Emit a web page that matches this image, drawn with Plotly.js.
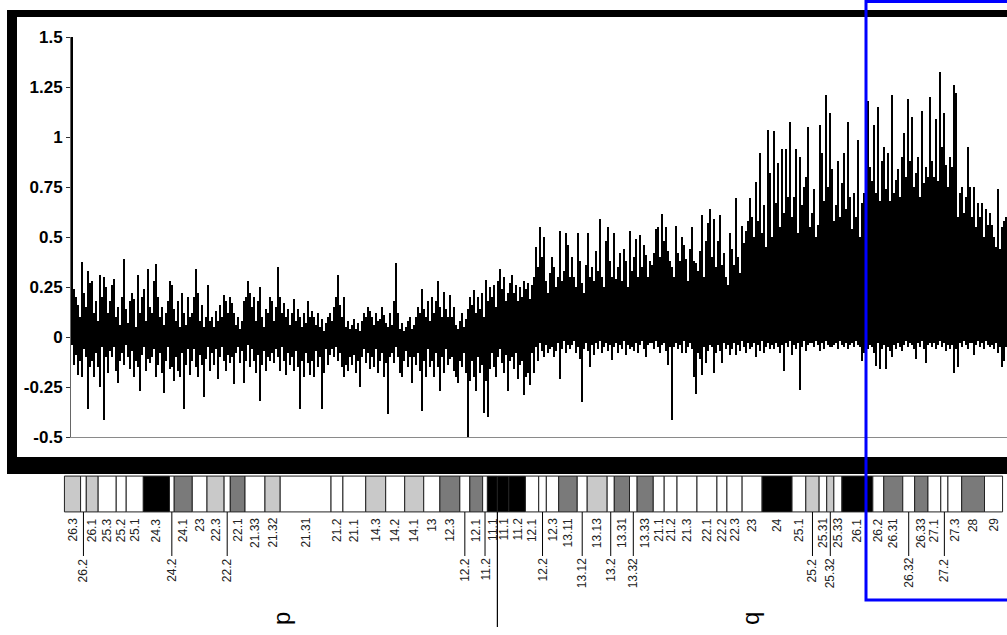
<!DOCTYPE html>
<html>
<head>
<meta charset="utf-8">
<script src="https://cdn.plot.ly/plotly-3.0.1.min.js"></script>
<style>
  html, body { margin: 0; padding: 0; background: #fff; }
  #chart { width: 1007px; height: 635px; }
</style>
</head>
<body>
<div id="chart"></div>
<script>
// log2 ratios along chromosome 3, two interleaved probe sets per slot
let ratioUp = [
  1.5, 0.24, 0.2, 0.16, 0.1, 0.375, 0.22, 0.15, 0.33, 0.27,
  0.28, 0.12, 0.18, 0.08, 0.31, 0.2, 0.3, 0.25, 0.12, 0.18,
  0.26, 0.29, 0.1, 0.15, 0.06, 0.2, 0.39, 0.14, 0.07, 0.18,
  0.22, 0.19, 0.05, 0.31, 0.12, 0.2, 0.24, 0.08, 0.34, 0.15,
  0.12, 0.28, 0.365, 0.2, 0.1, 0.15, 0.06, 0.12, 0.18, 0.28,
  0.26, 0.14, 0.08, 0.18, 0.05, 0.22, 0.12, 0.06, 0.2, 0.1,
  0.12, 0.2, 0.34, 0.22, 0.08, 0.16, 0.05, 0.1, 0.26, 0.08,
  0.1, 0.05, 0.13, 0.08, 0.16, 0.1, 0.21, 0.18, 0.12, 0.2,
  0.17, 0.12, 0.06, 0.1, 0.04, 0.08, 0.18, 0.2, 0.28, 0.22,
  0.15, 0.2, 0.08, 0.18, 0.25, 0.1, 0.05, 0.14, 0.12, 0.2,
  0.18, 0.08, 0.15, 0.35, 0.2, 0.12, 0.17, 0.1, 0.14, 0.06,
  0.12, 0.19, 0.08, 0.14, 0.1, 0.05, 0.12, 0.07, 0.18, 0.1,
  0.13, 0.1, 0.06, 0.12, 0.05, 0.09, 0.03, 0.07, 0.1, 0.12,
  0.08, 0.15, 0.2, 0.31, 0.16, 0.1, 0.2, 0.05, 0.08, 0.04,
  0.06, 0.09, 0.04, 0.07, 0.03, 0.08, 0.12, 0.1, 0.15, 0.13,
  0.1, 0.06, 0.12, 0.08, 0.09, 0.15, 0.11, 0.07, 0.05, 0.12,
  0.06, 0.18, 0.37, 0.12, 0.04, 0.07, 0.03, 0.05, 0.08, 0.1,
  0.04, 0.06, 0.1, 0.15, 0.12, 0.24, 0.14, 0.1, 0.18, 0.08,
  0.2, 0.12, 0.18, 0.28, 0.15, 0.1, 0.225, 0.14, 0.1, 0.21,
  0.1, 0.15, 0.06, 0.04, 0.08, 0.12, 0.05, 0.09, 0.14, 0.2,
  0.16, 0.235, 0.12, 0.2, 0.14, 0.22, 0.1, 0.285, 0.18, 0.25,
  0.2, 0.26, 0.15, 0.28, 0.34, 0.24, 0.3, 0.18, 0.22, 0.27,
  0.31, 0.22, 0.26, 0.18, 0.25, 0.2, 0.28, 0.24, 0.27, 0.19,
  0.26, 0.3, 0.45, 0.35, 0.55, 0.4, 0.5, 0.28, 0.22, 0.32,
  0.4, 0.35, 0.25, 0.3, 0.53, 0.28, 0.33, 0.52, 0.46, 0.3,
  0.4, 0.3, 0.25, 0.52, 0.38, 0.27, 0.22, 0.36, 0.52, 0.3,
  0.35, 0.28, 0.43, 0.33, 0.59, 0.3, 0.25, 0.48, 0.55, 0.38,
  0.3, 0.52, 0.29, 0.35, 0.42, 0.28, 0.44, 0.38, 0.25, 0.53,
  0.33, 0.4, 0.49, 0.3, 0.51, 0.35, 0.46, 0.41, 0.3, 0.38,
  0.36, 0.42, 0.54, 0.55, 0.4, 0.615, 0.48, 0.55, 0.43, 0.38,
  0.35, 0.3, 0.555, 0.42, 0.38, 0.5, 0.46, 0.39, 0.28, 0.44,
  0.55, 0.38, 0.37, 0.33, 0.43, 0.61, 0.3, 0.48, 0.57, 0.64,
  0.4, 0.59, 0.35, 0.48, 0.61, 0.36, 0.42, 0.3, 0.26, 0.52,
  0.44, 0.36, 0.695, 0.4, 0.32, 0.555, 0.47, 0.53, 0.58, 0.695,
  0.6, 0.5, 0.775, 0.58, 0.92, 0.52, 0.66, 0.45, 1.035, 0.82,
  0.5, 1.03, 0.67, 0.87, 0.55, 0.94, 0.62, 0.94, 0.7, 1.075,
  0.6, 0.7, 0.94, 0.52, 0.9, 0.66, 0.75, 0.8, 1.05, 0.55,
  0.62, 0.74, 0.5, 0.56, 1.06, 0.92, 0.68, 1.21, 0.75, 1.12,
  0.84, 0.58, 0.66, 0.88, 0.6, 0.77, 0.92, 0.64, 1.075, 0.7,
  0.54, 0.72, 0.6, 0.985, 0.5, 0.67, 0.72, 0.8, 1.18, 0.85,
  0.78, 1.06, 0.72, 1.15, 0.68, 0.88, 0.95, 0.74, 0.92, 0.68,
  1.21, 0.72, 0.785, 0.84, 0.7, 0.9, 1.02, 0.8, 1.19, 0.88,
  1.1, 0.75, 0.82, 0.9, 0.7, 1.13, 0.77, 0.85, 0.8, 1.2,
  0.88, 0.8, 1.09, 0.78, 1.325, 0.95, 1.12, 0.86, 0.75, 0.9,
  0.85, 1.26, 1.22, 0.6, 0.72, 0.75, 0.62, 0.7, 0.95, 0.75,
  0.6, 0.75, 0.55, 0.67, 0.6, 0.67, 0.5, 0.64, 0.56, 0.62,
  0.56, 0.5, 0.45, 0.74, 0.44, 0.55, 0.58, 0.6
];
let ratioDown = [
  -0.04, -0.14, -0.09, -0.19, -0.12, -0.2, -0.06, -0.1, -0.36, -0.15,
  -0.12, -0.2, -0.08, -0.15, -0.25, -0.05, -0.415, -0.1, -0.18, -0.07,
  -0.1, -0.05, -0.17, -0.23, -0.12, -0.08, -0.14, -0.04, -0.1, -0.16,
  -0.07, -0.2, -0.12, -0.15, -0.27, -0.09, -0.05, -0.17, -0.11, -0.13,
  -0.1, -0.06, -0.2, -0.14, -0.08, -0.18, -0.28, -0.12, -0.05, -0.16,
  -0.15, -0.22, -0.1, -0.17, -0.2, -0.08, -0.36, -0.14, -0.06, -0.19,
  -0.12, -0.06, -0.15, -0.2, -0.09, -0.14, -0.3, -0.11, -0.05, -0.17,
  -0.08, -0.14, -0.06, -0.21, -0.1, -0.05, -0.12, -0.17, -0.09, -0.13,
  -0.1, -0.235, -0.08, -0.05, -0.13, -0.07, -0.23, -0.12, -0.04, -0.15,
  -0.06, -0.12, -0.18, -0.09, -0.32, -0.14, -0.07, -0.17, -0.1, -0.12,
  -0.08, -0.13, -0.06, -0.1, -0.17, -0.05, -0.12, -0.19, -0.08, -0.14,
  -0.1, -0.17, -0.07, -0.15, -0.36, -0.12, -0.2, -0.08, -0.13, -0.19,
  -0.12, -0.2, -0.07, -0.15, -0.1, -0.36, -0.18, -0.06, -0.14, -0.09,
  -0.06, -0.1, -0.05, -0.12, -0.08, -0.15, -0.2, -0.14, -0.17, -0.1,
  -0.14, -0.09, -0.18, -0.12, -0.25, -0.1, -0.06, -0.13, -0.08, -0.16,
  -0.1, -0.15, -0.06, -0.18, -0.12, -0.08, -0.2, -0.13, -0.385, -0.1,
  -0.08, -0.13, -0.05, -0.1, -0.18, -0.2, -0.12, -0.07, -0.15, -0.1,
  -0.23, -0.1, -0.14, -0.08, -0.17, -0.37, -0.12, -0.2, -0.06, -0.15,
  -0.12, -0.2, -0.08, -0.15, -0.27, -0.1, -0.18, -0.06, -0.14, -0.11,
  -0.1, -0.17, -0.2, -0.23, -0.12, -0.15, -0.08, -0.18, -0.5, -0.22,
  -0.12, -0.2, -0.27, -0.1, -0.18, -0.14, -0.38, -0.22, -0.4, -0.16,
  -0.08, -0.15, -0.2, -0.1, -0.06, -0.13, -0.18, -0.09, -0.27, -0.12,
  -0.1, -0.16, -0.08, -0.21, -0.14, -0.12, -0.29, -0.2, -0.18, -0.24,
  -0.08, -0.18, -0.05, -0.12, -0.03, -0.07, -0.1, -0.04, -0.08, -0.06,
  -0.05, -0.1, -0.07, -0.03, -0.21, -0.06, -0.02, -0.08, -0.04, -0.06,
  -0.04, -0.02, -0.08, -0.05, -0.11, -0.325, -0.06, -0.03, -0.07, -0.15,
  -0.04, -0.09, -0.03, -0.06, -0.02, -0.08, -0.05, -0.03, -0.07, -0.04,
  -0.115, -0.05, -0.03, -0.08, -0.04, -0.06, -0.02, -0.09, -0.04, -0.06,
  -0.05, -0.07, -0.03, -0.08, -0.04, -0.02, -0.06, -0.1, -0.04, -0.03,
  -0.03, -0.06, -0.02, -0.05, -0.08, -0.04, -0.03, -0.07, -0.14, -0.05,
  -0.415, -0.05, -0.03, -0.06, -0.04, -0.08, -0.02, -0.08, -0.05, -0.03,
  -0.06, -0.2, -0.285, -0.08, -0.11, -0.19, -0.05, -0.13, -0.07, -0.04,
  -0.05, -0.18, -0.08, -0.04, -0.07, -0.13, -0.03, -0.06, -0.04, -0.09,
  -0.06, -0.03, -0.09, -0.04, -0.07, -0.02, -0.05, -0.08, -0.03, -0.06,
  -0.05, -0.03, -0.1, -0.04, -0.07, -0.02, -0.08, -0.05, -0.03, -0.06,
  -0.04, -0.06, -0.03, -0.05, -0.08, -0.04, -0.17, -0.03, -0.05, -0.02,
  -0.09, -0.04, -0.06, -0.03, -0.265, -0.05, -0.02, -0.07, -0.04, -0.03,
  -0.03, -0.05, -0.02, -0.04, -0.07, -0.03, -0.06, -0.02, -0.04, -0.05,
  -0.05, -0.04, -0.03, -0.06, -0.02, -0.04, -0.05, -0.03, -0.06, -0.04,
  -0.03, -0.05, -0.02, -0.04, -0.05, -0.12, -0.08, -0.03, -0.06, -0.04,
  -0.05, -0.08, -0.145, -0.03, -0.16, -0.06, -0.04, -0.16, -0.05, -0.07,
  -0.1, -0.04, -0.06, -0.03, -0.05, -0.07, -0.04, -0.02, -0.05, -0.03,
  -0.04, -0.06, -0.11, -0.03, -0.05, -0.02, -0.06, -0.13, -0.04, -0.03,
  -0.05, -0.03, -0.06, -0.04, -0.02, -0.05, -0.03, -0.07, -0.04, -0.06,
  -0.04, -0.18, -0.06, -0.15, -0.03, -0.05, -0.02, -0.04, -0.06, -0.03,
  -0.03, -0.09, -0.04, -0.02, -0.05, -0.03, -0.06, -0.02, -0.04, -0.05,
  -0.04, -0.06, -0.03, -0.08, -0.05, -0.15, -0.12, -0.05
];

let yTicks = [-0.5, -0.25, 0, 0.25, 0.5, 0.75, 1, 1.25, 1.5];
let yTickText = ['-0.5', '-0.25', '0', '0.25', '0.5', '0.75', '1', '1.25', '1.5'];

// chromosome 3 ideogram, band edges in Mb
let bandEdges = [
  0, 3.4, 4.6, 7.1, 10.9, 13.0, 16.6, 22.1, 23.1, 26.9,
  30.0, 33.6, 34.9, 38.0, 42.2, 45.4, 56.1, 58.6, 63.4, 67.6,
  71.6, 75.6, 79.0, 83.2, 85.3, 88.0, 89.0, 91.1, 93.5, 97.0,
  99.8, 101.4, 104.0, 107.9, 110.0, 114.2, 115.7, 118.9, 120.5, 123.9,
  126.2, 128.9, 133.1, 137.3, 139.4, 142.6, 146.8, 153.1, 156.0, 158.8,
  160.4, 161.9, 163.6, 170.1, 172.4, 176.4, 178.9, 181.7, 184.4, 185.9,
  188.8, 193.6, 197.4
];
let bandNames = [
  '26.3', '26.2', '26.1', '25.3', '25.2', '25.1', '24.3', '24.2', '24.1', '23',
  '22.3', '22.2', '22.1', '21.33', '21.32', '21.31', '21.2', '21.1', '14.3', '14.2',
  '14.1', '13', '12.3', '12.2', '12.1', '11.2', '11.1', '11.1', '11.2', '12.1',
  '12.2', '12.3', '13.11', '13.12', '13.13', '13.2', '13.31', '13.32', '13.33', '21.1',
  '21.2', '21.3', '22.1', '22.2', '22.3', '23', '24', '25.1', '25.2', '25.31',
  '25.32', '25.33', '26.1', '26.2', '26.31', '26.32', '26.33', '27.1', '27.2', '27.3',
  '28', '29'
];
let bandStains = [
  'gpos25', 'gneg', 'gpos25', 'gneg', 'gneg', 'gneg', 'gpos100', 'gneg', 'gpos75', 'gneg',
  'gpos25', 'gneg', 'gpos75', 'gneg', 'gpos25', 'gneg', 'gneg', 'gneg', 'gpos25', 'gneg',
  'gpos25', 'gneg', 'gpos75', 'gneg', 'gpos75', 'gneg', 'acen', 'acen', 'gpos100', 'gneg',
  'gneg', 'gneg', 'gpos75', 'gneg', 'gpos25', 'gneg', 'gpos75', 'gneg', 'gpos75', 'gneg',
  'gneg', 'gneg', 'gneg', 'gneg', 'gneg', 'gneg', 'gpos100', 'gneg', 'gpos25', 'gneg',
  'gpos25', 'gneg', 'gpos100', 'gneg', 'gpos75', 'gneg', 'gpos75', 'gneg', 'gneg', 'gneg',
  'gpos75', 'gneg'
];
// label row under the ideogram (2 = dropped row with a leader line)
let bandTier = [
  1, 2, 1, 1, 1, 1, 1, 2, 1, 1,
  1, 2, 1, 1, 1, 1, 1, 1, 1, 1,
  1, 1, 1, 2, 1, 2, 1, 1, 1, 1,
  2, 1, 1, 2, 1, 2, 1, 2, 1, 1,
  1, 1, 1, 1, 1, 1, 1, 1, 2, 1,
  2, 1, 1, 1, 1, 2, 1, 1, 2, 1,
  1, 1
];
let stainColor = { gneg: '#ffffff', gpos25: '#c9c9c9', gpos75: '#7a7a7a', gpos100: '#000000', acen: '#000000' };

let W = 1007, H = 635;
function px(x) { return x / W; }
function py(y) { return 1 - y / H; }

let slots = ratioUp.map((v, i) => i);

let bandMid = [], bandWidth = [], bandColor = [];
for (let i = 0; i < bandNames.length; i++) {
  bandMid.push((bandEdges[i] + bandEdges[i + 1]) / 2);
  bandWidth.push(bandEdges[i + 1] - bandEdges[i]);
  bandColor.push(stainColor[bandStains[i]]);
}
let cenIdx = bandStains.indexOf('acen');
let centromere = bandEdges[cenIdx + 1];
let chrEnd = bandEdges[bandEdges.length - 1];

let data = [
  {
    type: 'bar', x: slots, y: ratioUp, xaxis: 'x', yaxis: 'y',
    marker: { color: '#000000', line: { width: 0 } }, hoverinfo: 'skip'
  },
  {
    type: 'bar', x: slots, y: ratioDown, xaxis: 'x', yaxis: 'y',
    marker: { color: '#000000', line: { width: 0 } }, hoverinfo: 'skip'
  },
  {
    type: 'bar', x: bandMid, y: bandMid.map(() => 1), base: 0, width: bandWidth,
    xaxis: 'x2', yaxis: 'y2',
    marker: { color: bandColor, line: { color: '#222222', width: 1 } }, hoverinfo: 'skip'
  }
];

let shapes = [
  // heavy black frame
  { type: 'rect', xref: 'paper', yref: 'paper', x0: px(7), x1: px(17), y0: py(474), y1: py(10), fillcolor: '#000', line: { width: 0 } },
  { type: 'rect', xref: 'paper', yref: 'paper', x0: px(7), x1: 1.01, y0: py(17), y1: py(10), fillcolor: '#000', line: { width: 0 } },
  { type: 'rect', xref: 'paper', yref: 'paper', x0: px(7), x1: 1.01, y0: py(474), y1: py(457), fillcolor: '#000', line: { width: 0 } },
  // centromere line
  { type: 'line', xref: 'x2', yref: 'paper', x0: centromere, x1: centromere, y0: py(512), y1: py(627), line: { color: '#000', width: 1.2 } }
];
let annotations = [];
for (let i = 0; i < bandNames.length; i++) {
  let low = bandTier[i] === 2;
  if (low) {
    shapes.push({ type: 'line', xref: 'x2', yref: 'paper', x0: bandMid[i], x1: bandMid[i], y0: py(512), y1: py(556), line: { color: '#000', width: 1 } });
  }
  annotations.push({
    xref: 'x2', yref: 'paper', x: bandMid[i], y: low ? py(557) : py(517),
    xanchor: 'center', yanchor: 'top', text: bandNames[i], textangle: -90, showarrow: false,
    borderpad: 0,
    font: { family: 'Liberation Sans, Arial, sans-serif', size: 12, color: '#222' }
  });
}
annotations.push({
  xref: 'x2', yref: 'paper', x: centromere / 2, y: py(618), text: 'p', textangle: -90, showarrow: false,
  xanchor: 'center', yanchor: 'middle', font: { family: 'Liberation Sans, Arial, sans-serif', size: 24, color: '#000' }
});
annotations.push({
  xref: 'x2', yref: 'paper', x: (centromere + chrEnd) / 2, y: py(618), text: 'q', textangle: -90, showarrow: false,
  xanchor: 'center', yanchor: 'middle', font: { family: 'Liberation Sans, Arial, sans-serif', size: 24, color: '#000' }
});
// blue selection box
shapes.push({ type: 'rect', xref: 'paper', yref: 'paper', x0: px(866), x1: px(1015), y0: py(600), y1: py(1.5), line: { color: '#0000ff', width: 3 } });

let layout = {
  width: W, height: H,
  margin: { l: 0, r: 0, t: 0, b: 0 },
  paper_bgcolor: '#ffffff', plot_bgcolor: 'rgba(0,0,0,0)',
  showlegend: false, barmode: 'overlay', bargap: 0,
  xaxis: {
    domain: [px(71), 1], range: [-0.5, ratioUp.length - 0.5],
    showticklabels: false, ticks: '', showgrid: false, zeroline: false,
    showline: true, linecolor: '#8a8a8a', linewidth: 1
  },
  yaxis: {
    domain: [py(437), py(37)], range: [-0.5, 1.5],
    tickvals: yTicks, ticktext: yTickText, ticks: 'outside', ticklen: 4, tickcolor: '#333',
    showline: true, linecolor: '#666', linewidth: 1, showgrid: false, zeroline: false,
    tickfont: { family: 'Liberation Sans, Arial, sans-serif', size: 17, color: '#000', weight: 'bold' }
  },
  xaxis2: { domain: [px(63), px(1004)], range: [-0.3, chrEnd + 0.3], anchor: 'y2', visible: false },
  yaxis2: { domain: [py(513), py(475)], range: [-0.03, 1.03], anchor: 'x2', visible: false },
  shapes: shapes,
  annotations: annotations
};

Plotly.newPlot('chart', data, layout, { displayModeBar: false, staticPlot: true });
</script>
</body>
</html>
